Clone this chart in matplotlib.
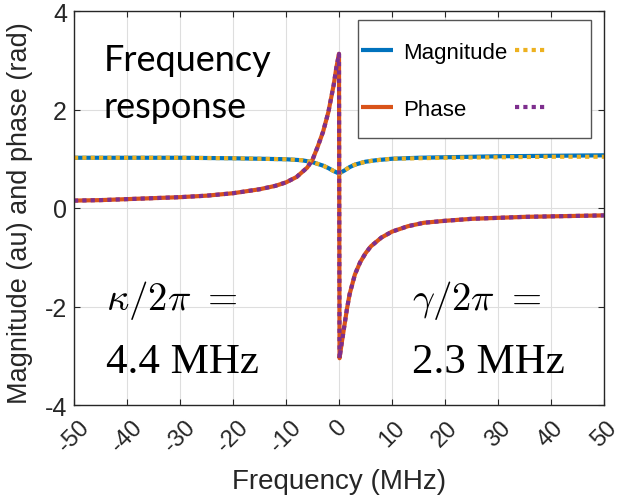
import matplotlib
matplotlib.use("Agg")
import matplotlib.pyplot as plt
from matplotlib.patches import Rectangle

# =============================================================================
# Data
# =============================================================================

# magnitude, measured and fitted
mag_freq = [-50, -40, -30, -20, -15, -10, -7, -5, -3, -2, -1, 0,
            1, 2, 3, 5, 7, 10, 15, 20, 30, 40, 50]
mag_data = [1.02, 1.02, 1.02, 1.01, 1.0, 0.99, 0.97, 0.93, 0.86, 0.81, 0.75, 0.70,
            0.76, 0.83, 0.88, 0.94, 0.97, 1.0, 1.02, 1.03, 1.05, 1.06, 1.07]
mag_fit = [1.02, 1.02, 1.02, 1.01, 1.0, 0.99, 0.97, 0.93, 0.86, 0.81, 0.75, 0.70,
           0.76, 0.83, 0.88, 0.94, 0.97, 1.0, 1.01, 1.02, 1.03, 1.04, 1.04]

# phase, measured and fitted
phase_freq = [-50, -45, -40, -35, -30, -25, -20, -15, -12, -10, -8, -6, -5, -4,
              -3, -2, -1, -0.5, 0, 0.1, 0.5, 1, 1.5, 2, 3, 4, 5, 6, 8, 10,
              13, 16, 20, 25, 30, 35, 40, 45, 50]
phase_data = [0.15, 0.16, 0.18, 0.20, 0.22, 0.25, 0.30, 0.38, 0.45, 0.52, 0.63, 0.82,
              0.98, 1.25, 1.55, 1.95, 2.50, 2.85, 3.13, -3.05, -2.75, -2.40, -2.05,
              -1.75, -1.35, -1.10, -0.92, -0.78, -0.60, -0.48, -0.37, -0.30, -0.26,
              -0.22, -0.20, -0.18, -0.17, -0.16, -0.15]
phase_fit = phase_data

x_ticks = [-50, -40, -30, -20, -10, 0, 10, 20, 30, 40, 50]
y_ticks = [-4, -2, 0, 2, 4]

# MATLAB default colours
C_BLUE = '#0072BD'
C_ORANGE = '#D95319'
C_YELLOW = '#EDB120'
C_PURPLE = '#7E2F8E'
AX_COLOR = '#262626'

plt.rcParams['font.family'] = ['Liberation Sans', 'DejaVu Sans']
plt.rcParams['mathtext.fontset'] = 'cm'
plt.rcParams['axes.unicode_minus'] = False

fig = plt.figure(figsize=(6.19, 5.02), dpi=100)
ax = fig.add_axes([74 / 619, 96 / 502, 530 / 619, 394 / 502])

dots = (0, (1.0, 1.0))
h_mag, = ax.plot(mag_freq, mag_data, color=C_BLUE, lw=3, solid_capstyle='butt')
h_ph, = ax.plot(phase_freq, phase_data, color=C_ORANGE, lw=3, solid_capstyle='butt')
h_magfit, = ax.plot(mag_freq, mag_fit, color=C_YELLOW, lw=3, linestyle=dots)
h_phfit, = ax.plot(phase_freq, phase_fit, color=C_PURPLE, lw=3, linestyle=dots)

ax.set_xlim(-50, 50)
ax.set_ylim(-4, 4)
ax.set_xticks(x_ticks)
ax.set_yticks(y_ticks)
ax.set_xticklabels([str(t) for t in x_ticks], rotation=45, ha='center', va='top',
                   fontsize=17)
ax.grid(True, color='#dedede', lw=0.8)
ax.set_axisbelow(True)

ax.tick_params(direction='in', top=True, right=True, length=4, width=0.8,
               colors=AX_COLOR, labelsize=18, pad=5)
ax.tick_params(axis='x', pad=8, labelsize=17)
for sp in ax.spines.values():
    sp.set_color(AX_COLOR)
    sp.set_linewidth(1.0)

ax.set_xlabel('Frequency (MHz)', fontsize=20, color=AX_COLOR, labelpad=9)
ax.set_ylabel('Magnitude (au) and phase (rad)', fontsize=19.5, color=AX_COLOR)
ax.yaxis.set_label_coords(-0.078, 0.49)

# legend: two columns, fit lines without labels
ax.legend(handles=[h_mag, h_ph, h_magfit, h_phfit],
          labels=['Magnitude', 'Phase', '', ''],
          ncol=2, frameon=False, fontsize=16, loc='upper left',
          bbox_to_anchor=((361 - 74) / 530, (406 - 43) / 394),
          borderpad=0, borderaxespad=0, handlelength=1.44, handletextpad=0.45,
          labelspacing=1.6, columnspacing=0.36)
ax.add_patch(Rectangle(((358 - 74) / 530, (406 - 139) / 394), 233 / 530, 118 / 394,
                       transform=ax.transAxes, fill=True, facecolor='white',
                       edgecolor='#555555', lw=1.0, zorder=4))

# annotations
fig.text(104 / 619, 1 - 71 / 502, 'Frequency', fontsize=26, family='Lato', va='baseline')
fig.text(104 / 619, 1 - 118 / 502, 'response', fontsize=26, family='Lato', va='baseline')
fig.text(106 / 619, 1 - 310 / 502, r'$\kappa/2\pi\ =$', fontsize=28, va='baseline')
fig.text(106 / 619, 1 - 373 / 502, '4.4 MHz', fontsize=31, family='Liberation Serif',
         va='baseline')
fig.text(412 / 619, 1 - 310 / 502, r'$\gamma/2\pi\ =$', fontsize=28, va='baseline')
fig.text(412 / 619, 1 - 373 / 502, '2.3 MHz', fontsize=31, family='Liberation Serif',
         va='baseline')

fig.savefig('out.png', dpi=100, facecolor='white')
